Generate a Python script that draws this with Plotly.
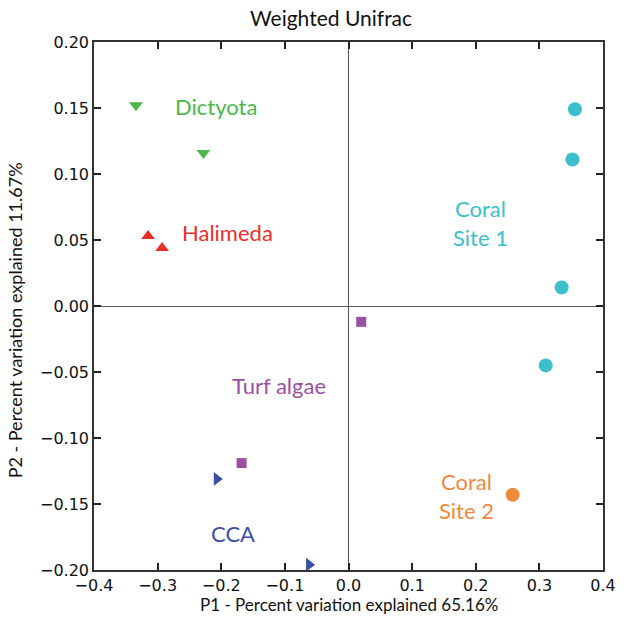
import plotly.graph_objects as go

# Data
groups = ["Dictyota", "Halimeda", "Coral Site 1", "Turf algae", "CCA", "Coral Site 2"]
dictyota_x = [-0.334, -0.228]
dictyota_y = [0.152, 0.116]
halimeda_x = [-0.315, -0.293]
halimeda_y = [0.053, 0.044]
coral1_x = [0.356, 0.352, 0.335, 0.310]
coral1_y = [0.149, 0.111, 0.014, -0.045]
turf_x = [0.020, -0.168]
turf_y = [-0.012, -0.119]
cca_x = [-0.207, -0.062]
cca_y = [-0.131, -0.196]
coral2_x = [0.258]
coral2_y = [-0.143]

label_text = ["Dictyota", "Halimeda", "Coral<br>Site 1", "Turf algae", "CCA", "Coral<br>Site 2"]
label_x = [-0.208, -0.190, 0.208, -0.110, -0.182, 0.185]
label_y = [0.151, 0.056, 0.063, -0.060, -0.172, -0.144]

x_title = "P1 - Percent variation explained 65.16%"
y_title = "P2 - Percent variation explained 11.67%"

colors = ["#4cb848", "#e8302a", "#3cbfcc", "#9a4fa3", "#3c4fa6", "#ee8a3c"]
symbols = ["triangle-down", "triangle-up", "circle", "square", "triangle-right", "circle"]
sizes = [12, 12, 14, 10, 12, 14]
xs = [dictyota_x, halimeda_x, coral1_x, turf_x, cca_x, coral2_x]
ys = [dictyota_y, halimeda_y, coral1_y, turf_y, cca_y, coral2_y]

fig = go.Figure()
for g, x, y, c, s, sz in zip(groups, xs, ys, colors, symbols, sizes):
    fig.add_trace(go.Scatter(x=x, y=y, mode="markers", name=g,
                             marker=dict(color=c, symbol=s, size=sz, line=dict(width=0))))

for t, lx, ly, c in zip(label_text, label_x, label_y, colors):
    fig.add_annotation(x=lx, y=ly, text=t, showarrow=False,
                       font=dict(family="Lato, Open Sans, sans-serif", size=22, color=c),
                       align="center")

title_font = dict(family="Lato, Open Sans, sans-serif", size=18, color="#111")
fig.add_annotation(text=x_title, xref="paper", yref="paper", x=0.5, y=-0.089,
                   xanchor="center", yanchor="bottom", showarrow=False,
                   font=dict(family="Lato, Open Sans, sans-serif", size=17, color="#111"))
fig.add_annotation(text=y_title, xref="paper", yref="paper", x=-0.155, y=0.473,
                   xanchor="center", yanchor="middle", textangle=-90, showarrow=False,
                   font=title_font)

axis_common = dict(showgrid=False, zeroline=True, zerolinecolor="#555", zerolinewidth=1.2,
                   showline=True, linecolor="#333", linewidth=1.5, mirror="allticks",
                   ticks="inside", ticklen=7, tickwidth=1.5, tickcolor="#222",
                   automargin=False,
                   tickfont=dict(family="DejaVu Sans", size=16, color="#111"))

fig.update_layout(
    width=633, height=617,
    margin=dict(l=94, r=30, t=42, b=47),
    paper_bgcolor="white", plot_bgcolor="white",
    showlegend=False,
    title=dict(text="Weighted Unifrac", x=0.523, xref="container", xanchor="center",
               y=0.982, yanchor="top",
               font=dict(family="Lato, Open Sans, sans-serif", size=21, color="#111")),
    xaxis=dict(range=[-0.4, 0.4], dtick=0.1, tickformat=".1f", **axis_common),
    yaxis=dict(range=[-0.2, 0.2], dtick=0.05, tickformat=".2f", **axis_common),
)

fig.write_html("out.html")
